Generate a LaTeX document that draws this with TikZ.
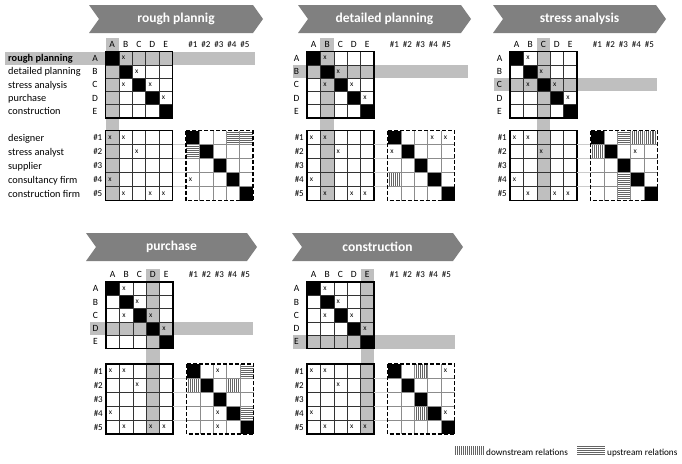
\documentclass[tikz,border=0pt]{standalone}
\usepackage{fontspec}
\setmainfont{Carlito}
\definecolor{hl}{RGB}{191,191,191}
\definecolor{bannerc}{RGB}{128,128,128}
\definecolor{hatchc}{RGB}{100,100,100}
\definecolor{dgrid}{RGB}{140,140,140}
\newcommand\Wc{13.4}
\newcommand\Hu{13.3}
\newcommand\Hl{14}
\tikzset{
  xmark/.style={font=\fontsize{7.5}{8}\selectfont, inner sep=0pt},
  rowlbl/.style={font=\fontsize{10.3}{11}\selectfont, inner sep=0pt, anchor=base west},
  leglbl/.style={font=\fontsize{9.2}{10}\selectfont, inner sep=0pt, anchor=base west},
  letlbl/.style={font=\fontsize{9.5}{10}\selectfont, inner sep=0pt},
  numlbl/.style={font=\fontsize{9}{10}\selectfont, inner sep=0pt},
  bannertxt/.style={font=\fontsize{13.5}{14}\selectfont\bfseries, text=white, inner sep=0pt},
  bannerfill/.style={fill=bannerc, draw=none},
  band/.style={fill=hl, draw=none},
  igrid/.style={line width=0.6pt, draw=black!80},
  ogrid/.style={line width=1.2pt, draw=black},
  dgridline/.style={line width=0.6pt, draw=dgrid},
  dborder/.style={line width=1.2pt, draw=black, dash pattern=on 4pt off 2pt},
  hatchline/.style={line width=0.45pt, draw=hatchc},
  faint/.style={line width=0.5pt, draw=black!20},
}
% banner: L R T B name text
\newcommand\mkbanner[6]{%
  \fill[bannerfill] (#1,#3) -- ({#2-10},#3) -- (#2,{(#3+#4)/2}) -- ({#2-10},#4) -- (#1,#4) -- ({#1+10},{(#3+#4)/2}) -- cycle;
  \node[bannertxt] (#5) at ({(#1+#2)/2},{(#3+#4)/2}) {#6};
}
% dashed-matrix cell helpers (use \Xd, \PYb)
\newcommand\dvh[2]{\foreach \k in {1,...,6} \draw[hatchline] ({\Xd+(#2-1)*\Wc+\k*\Wc/7},{\PYb+(#1-1)*\Hl}) -- ++(0,\Hl);}
\newcommand\dhh[2]{\foreach \k in {1,...,6} \draw[hatchline] ({\Xd+(#2-1)*\Wc},{\PYb+(#1-1)*\Hl+\k*\Hl/7}) -- ++(\Wc,0);}
\newcommand\dxm[2]{\node[xmark] (dx\PN#1#2) at ({\Xd+(#2-1)*\Wc+4.5},{\PYb+(#1-0.5)*\Hl}) {x};}
% panel: x0 y0 y1 gcol grow bandL bandR dashed-extras
\newcommand\mkpanel[8]{%
  \pgfmathsetmacro\PYb{#3}%
  \pgfmathsetmacro\Xd{#1+80.5}%
  \fill[band] (#6,{#2+(#5-1)*\Hu}) rectangle (#7,{#2+#5*\Hu});
  \fill[band] ({#1+(#4-1)*\Wc},{#2-13.5}) rectangle ({#1+#4*\Wc},{#3+5*\Hl});
  % upper matrix
  \foreach \k in {1,...,5} \fill ({#1+(\k-1)*\Wc},{#2+(\k-1)*\Hu}) rectangle ++(\Wc,\Hu);
  \foreach \k in {1,...,4} {\draw[igrid] ({#1+\k*\Wc},#2) -- ++(0,{5*\Hu}); \draw[igrid] (#1,{#2+\k*\Hu}) -- ++({5*\Wc},0);}
  \draw[ogrid] (#1,#2) rectangle ++({5*\Wc},{5*\Hu});
  \foreach \ri/\ci in {1/2,2/3,3/2,3/4,4/5} \node[xmark] (ux\PN\ri\ci) at ({#1+(\ci-1)*\Wc+4.5},{#2+(\ri-0.5)*\Hu}) {x};
  % lower matrix
  \foreach \k in {1,...,4} {\draw[igrid] ({#1+\k*\Wc},#3) -- ++(0,{5*\Hl}); \draw[igrid] (#1,{#3+\k*\Hl}) -- ++({5*\Wc},0);}
  \draw[ogrid] (#1,#3) rectangle ++({5*\Wc},{5*\Hl});
  \foreach \ri/\ci in {1/1,1/2,2/3,4/1,5/2,5/4,5/5} \node[xmark] (lx\PN\ri\ci) at ({#1+(\ci-1)*\Wc+4.5},{#3+(\ri-0.5)*\Hl}) {x};
  % headers and row labels
  \foreach \l [count=\k] in {A,B,C,D,E} {
    \node[letlbl] (h\PN\k) at ({#1+(\k-0.5)*\Wc},{#2-7.5}) {\l};
    \node[letlbl] (r\PN\k) at ({#1-10.5},{#2+(\k-0.5)*\Hu}) {\l};
  }
  \foreach \k in {1,...,5} {
    \node[numlbl] (n\PN\k) at ({\Xd+(\k-0.5)*13+0.5},{#2-7.5}) {\#\k};
    \node[numlbl, anchor=east] (m\PN\k) at ({#1-3},{#3+(\k-0.5)*\Hl}) {\#\k};
  }
  % faint connecting lines
  \foreach \k in {1,...,4} \draw[faint] ({#1+5*\Wc},{#3+\k*\Hl}) -- (\Xd,{#3+\k*\Hl});
  % dashed matrix
  \foreach \k in {1,...,5} \fill ({\Xd+(\k-1)*\Wc},{#3+(\k-1)*\Hl}) rectangle ++(\Wc,\Hl);
  #8
  \foreach \k in {1,...,4} {\draw[dgridline] ({\Xd+\k*\Wc},#3) -- ++(0,{5*\Hl}); \draw[dgridline] (\Xd,{#3+\k*\Hl}) -- ++({5*\Wc},0);}
  \draw[dborder] (\Xd,#3) rectangle ++({5*\Wc},{5*\Hl});
}
\begin{document}
\begin{tikzpicture}[x=1pt,y=-1pt]
\useasboundingbox (0,0) rectangle (682,463);
\fill[white] (0,0) rectangle (682,463);
\mkbanner{89}{263}{5}{33}{b1}{rough plannig}
\mkbanner{298}{471}{5}{33}{b2}{detailed planning}
\mkbanner{493}{666}{5}{33}{b3}{stress analysis}
\mkbanner{86}{257}{233}{261}{b4}{purchase}
\mkbanner{292}{463}{233}{261}{b5}{construction}
\def\PN{a}
\mkpanel{105.5}{51.5}{130.5}{1}{1}{5}{255}{\dhh{1}{4}\dhh{1}{5}\dhh{2}{1}\dxm{4}{1}}
\def\PN{b}
\mkpanel{307}{51.5}{130.5}{2}{2}{293}{468}{\dxm{1}{4}\dxm{1}{5}\dxm{2}{1}\dvh{4}{1}}
\def\PN{c}
\mkpanel{510}{51.5}{130.5}{3}{3}{494}{657}{\dhh{1}{3}\dvh{1}{4}\dvh{1}{5}\dvh{2}{1}\dxm{2}{4}\dhh{4}{3}\dhh{5}{3}}
\def\PN{d}
\mkpanel{106}{282}{364}{4}{4}{90}{253}{\dxm{1}{3}\dhh{1}{5}\dvh{2}{1}\dvh{2}{4}\dxm{4}{3}\dhh{4}{5}\dxm{5}{3}}
\def\PN{e}
\mkpanel{307}{282}{364}{5}{5}{293}{455}{\dvh{1}{3}\dxm{1}{5}\dvh{4}{3}\dxm{4}{5}}
% left labels
\foreach \t [count=\k] in {detailed planning,stress analysis,purchase,construction}
  \node[rowlbl] (pl\k) at (8,{51.5+(\k+0.5)*\Hu+3.5}) {\t};
\node[rowlbl, font=\fontsize{10.3}{11}\selectfont\bfseries] (pl0) at (8,{51.5+0.5*\Hu+3.5}) {rough planning};
\foreach \t [count=\k] in {designer,stress analyst,supplier,consultancy firm,construction firm}
  \node[rowlbl] (ac\k) at (8,{130.5+(\k-0.5)*\Hl+3.5}) {\t};
% legend
\foreach \k in {0,...,14} \draw[hatchline] ({455+\k*2},446) -- ++(0,9);
\node[leglbl] (lg1) at (486,455) {downstream relations};
\foreach \k in {0,...,4} \draw[hatchline] (577,{446+\k*2}) -- ++(28,0);
\node[leglbl] (lg2) at (607,455) {upstream relations};
\end{tikzpicture}
\end{document}
